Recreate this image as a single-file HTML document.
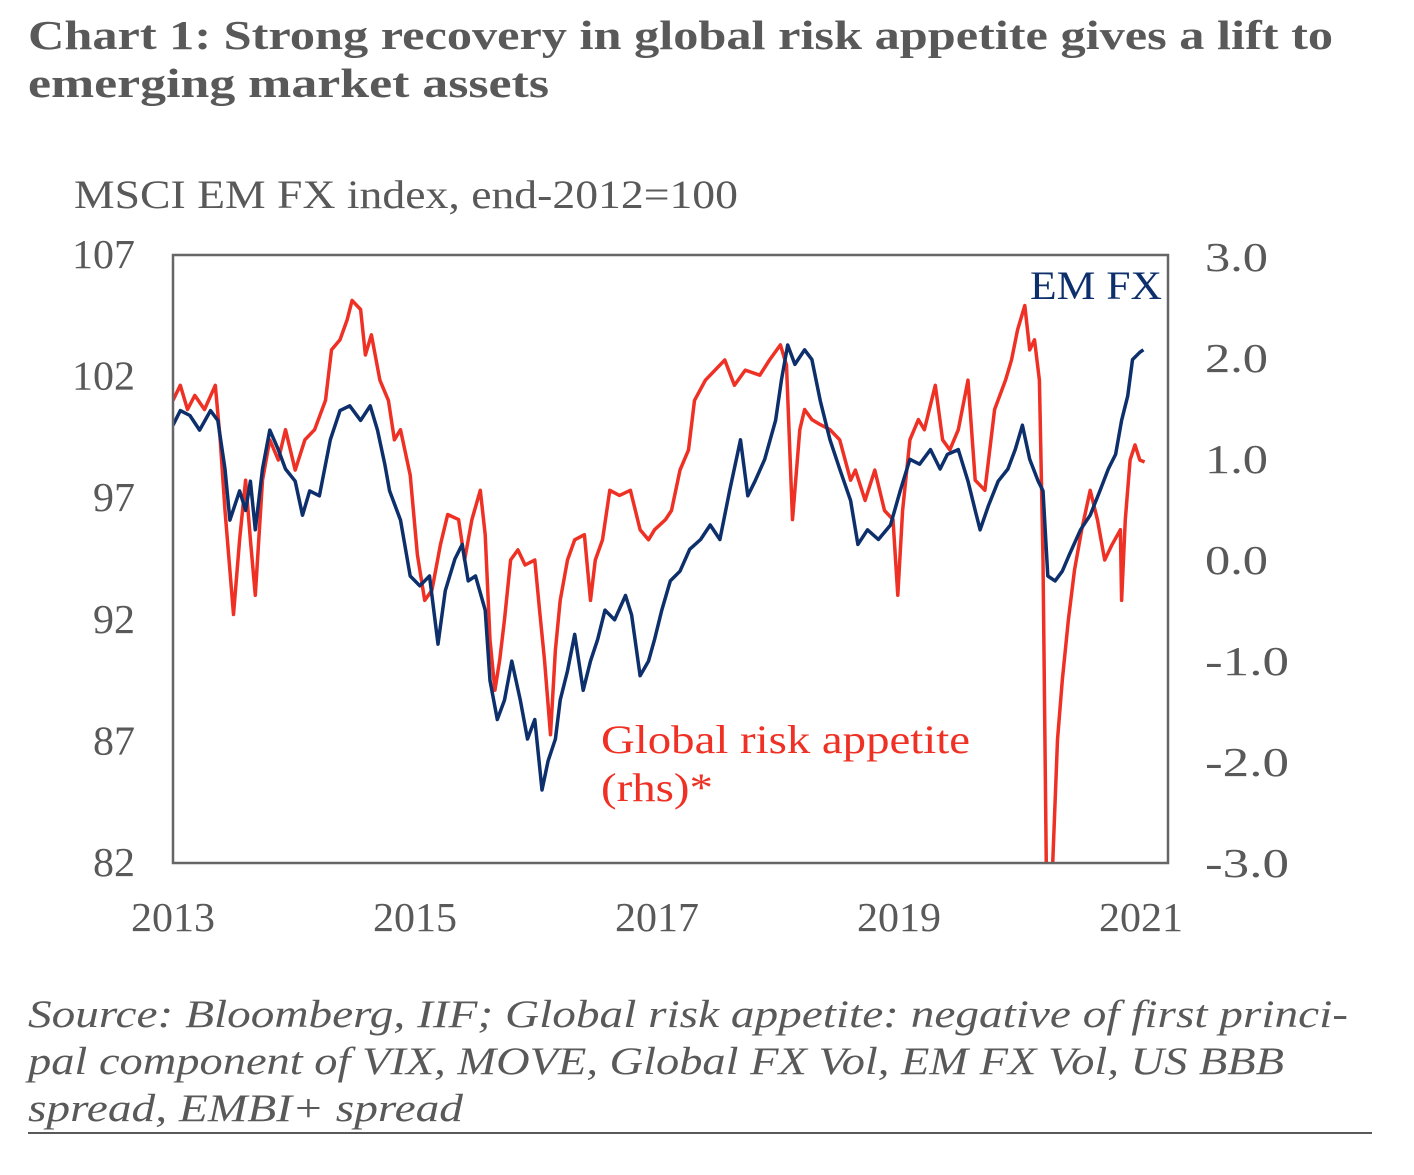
<!DOCTYPE html>
<html><head><meta charset="utf-8"><style>
body{margin:0;background:#fff;width:1414px;height:1170px;overflow:hidden;font-family:"Liberation Serif",serif;color:#595959}
svg text{font-family:"Liberation Serif",serif}
</style></head><body>
<svg width="1414" height="1170">
<text x="28" y="49" font-size="41" font-weight="bold" fill="#595959" textLength="1305" lengthAdjust="spacingAndGlyphs">Chart 1: Strong recovery in global risk appetite gives a lift to</text>
<text x="28" y="97" font-size="41" font-weight="bold" fill="#595959" textLength="521" lengthAdjust="spacingAndGlyphs">emerging market assets</text>
<text x="74" y="208" font-size="40" fill="#595959" textLength="664" lengthAdjust="spacingAndGlyphs">MSCI EM FX index, end-2012=100</text>
<g id="axes"></g>
<defs><clipPath id="pc"><rect x="173" y="255" width="995" height="608"/></clipPath></defs>
<g clip-path="url(#pc)"><path id="red" fill="none" stroke="#EE3124" stroke-width="3.5" stroke-linejoin="round"/>
<path id="blue" fill="none" stroke="#0D2F6B" stroke-width="3.5" stroke-linejoin="round"/></g>
<rect x="173" y="255" width="995" height="608" fill="none" stroke="#666" stroke-width="2.5"/>
<text x="1030" y="299" font-size="40" fill="#0D2F6B" textLength="132" lengthAdjust="spacingAndGlyphs">EM FX</text>
<text x="601" y="753" font-size="40" fill="#EE3124" textLength="369" lengthAdjust="spacingAndGlyphs">Global risk appetite</text>
<text x="601" y="801" font-size="40" fill="#EE3124" textLength="112" lengthAdjust="spacingAndGlyphs">(rhs)*</text>
<text x="28" y="1027" font-size="39" font-style="italic" fill="#595959" textLength="1320" lengthAdjust="spacingAndGlyphs">Source: Bloomberg, IIF; Global risk appetite: negative of first princi-</text>
<text x="28" y="1074" font-size="39" font-style="italic" fill="#595959" textLength="1256" lengthAdjust="spacingAndGlyphs">pal component of VIX, MOVE, Global FX Vol, EM FX Vol, US BBB</text>
<text x="28" y="1121" font-size="39" font-style="italic" fill="#595959" textLength="435" lengthAdjust="spacingAndGlyphs">spread, EMBI+ spread</text>
<line x1="28" y1="1133" x2="1372" y2="1133" stroke="#595959" stroke-width="2"/>
</svg>
<script>
const leftTicks=[107,102,97,92,87,82];
const rightTicks=["3.0","2.0","1.0","0.0","-1.0","-2.0","-3.0"];
const xTicks=[2013,2015,2017,2019,2021];
const blueT=[0,.06,.14,.22,.31,.37,.43,.47,.55,.60,.64,.68,.74,.80,.87,.93,1.01,1.07,1.13,1.21,1.30,1.38,1.46,1.55,1.63,1.69,1.75,1.79,1.88,1.96,2.04,2.12,2.19,2.25,2.33,2.39,2.44,2.50,2.58,2.62,2.68,2.74,2.80,2.87,2.93,2.99,3.05,3.10,3.16,3.20,3.26,3.32,3.39,3.45,3.51,3.57,3.65,3.74,3.79,3.86,3.93,3.98,4.04,4.11,4.19,4.27,4.36,4.44,4.52,4.60,4.69,4.75,4.81,4.89,4.98,5.03,5.08,5.14,5.22,5.28,5.35,5.43,5.51,5.60,5.66,5.74,5.83,5.93,6.01,6.09,6.17,6.26,6.34,6.40,6.49,6.57,6.63,6.67,6.74,6.82,6.90,6.96,7.02,7.08,7.15,7.19,7.23,7.29,7.35,7.41,7.50,7.58,7.66,7.73,7.79,7.84,7.89,7.93,7.99,8.02];
const blueV=[100.0,100.6,100.4,99.8,100.6,100.2,98.2,96.1,97.3,96.5,97.7,95.7,98.2,99.8,99.0,98.2,97.7,96.3,97.3,97.1,99.4,100.6,100.8,100.2,100.8,99.8,98.4,97.3,96.1,93.8,93.4,93.8,91.0,93.2,94.5,95.1,93.6,93.8,92.4,89.5,87.9,88.7,90.3,88.7,87.1,87.9,85.0,86.2,87.1,88.7,89.9,91.4,89.1,90.3,91.2,92.4,92.0,93.0,92.2,89.7,90.3,91.2,92.4,93.6,94.0,94.9,95.3,95.9,95.3,97.3,99.4,97.1,97.7,98.6,100.2,101.9,103.3,102.5,103.1,102.7,101.0,99.4,98.2,96.9,95.1,95.7,95.3,95.9,97.3,98.6,98.4,99.0,98.2,98.8,99.0,97.7,96.5,95.7,96.7,97.7,98.2,99.0,100.0,98.6,97.7,97.3,93.8,93.6,94.0,94.7,95.7,96.3,97.3,98.2,98.8,100.2,101.2,102.7,103.0,103.1];
const redT=[0,.06,.12,.18,.26,.35,.39,.43,.50,.55,.60,.64,.68,.74,.80,.87,.93,1.01,1.09,1.17,1.26,1.31,1.38,1.44,1.48,1.55,1.59,1.64,1.71,1.78,1.83,1.88,1.96,2.02,2.08,2.14,2.21,2.27,2.36,2.41,2.47,2.54,2.58,2.62,2.66,2.70,2.74,2.79,2.85,2.91,2.99,3.03,3.07,3.12,3.16,3.20,3.26,3.32,3.40,3.45,3.49,3.55,3.61,3.69,3.78,3.86,3.93,3.98,4.07,4.12,4.19,4.26,4.31,4.40,4.48,4.56,4.64,4.73,4.85,4.93,5.02,5.07,5.12,5.18,5.22,5.28,5.35,5.43,5.51,5.60,5.64,5.72,5.80,5.88,5.95,5.99,6.03,6.09,6.16,6.21,6.30,6.36,6.42,6.49,6.57,6.63,6.71,6.79,6.88,6.93,6.98,7.04,7.08,7.12,7.16,7.19,7.22,7.26,7.31,7.35,7.40,7.45,7.51,7.58,7.64,7.70,7.76,7.83,7.84,7.87,7.91,7.95,7.99,8.03];
const redV=[1.59,1.74,1.50,1.64,1.50,1.74,1.20,0.50,-0.53,0.21,0.80,0.21,-0.34,0.80,1.20,1.00,1.30,0.90,1.20,1.30,1.59,2.09,2.19,2.39,2.58,2.49,2.04,2.24,1.79,1.59,1.20,1.30,0.85,0.06,-0.39,-0.29,0.16,0.46,0.41,0.01,0.41,0.70,0.26,-0.78,-1.28,-0.98,-0.58,0.01,0.11,-0.04,0.01,-0.49,-0.98,-1.72,-0.88,-0.39,0.01,0.21,0.26,-0.39,0.01,0.21,0.70,0.65,0.70,0.31,0.21,0.31,0.41,0.50,0.90,1.10,1.59,1.79,1.89,1.99,1.74,1.89,1.84,1.99,2.14,1.94,0.41,1.30,1.50,1.40,1.35,1.30,1.20,0.80,0.90,0.60,0.90,0.50,0.41,-0.34,0.50,1.20,1.40,1.30,1.74,1.20,1.10,1.30,1.79,0.80,0.70,1.50,1.79,1.99,2.29,2.53,2.09,2.19,1.79,0.01,-3.3,-3.3,-1.77,-1.18,-0.58,-0.09,0.31,0.70,0.41,0.01,0.16,0.31,-0.39,0.41,1.00,1.15,1.00,0.98];
const X=t=>173+121*t, YL=v=>255+(107-v)*24.32, YR=v=>561-101*v;
const ns="http://www.w3.org/2000/svg", ax=document.getElementById('axes');
function txt(x,y,s,anchor,name){const e=document.createElementNS(ns,'text');e.setAttribute('x',x);e.setAttribute('y',y);e.setAttribute('font-size','41');e.setAttribute('fill','#595959');e.setAttribute('text-anchor',anchor);e.setAttribute('textLength',String(s).length*21);e.setAttribute('lengthAdjust','spacingAndGlyphs');e.textContent=s;


ax.appendChild(e);}
leftTicks.forEach(v=>txt(135,YL(v)+13,v,'end','left-tick-label'));
rightTicks.forEach(v=>txt(1205,YR(+v)+13,v,'start','right-tick-label'));
xTicks.forEach(y=>txt(X(y-2013),931,y,'middle','x-tick-label'));
document.getElementById('blue').setAttribute('d',blueT.map((t,i)=>(i?'L':'M')+X(t).toFixed(1)+' '+YL(blueV[i]).toFixed(1)).join(''));
document.getElementById('red').setAttribute('d',redT.map((t,i)=>(i?'L':'M')+X(t).toFixed(1)+' '+YR(redV[i]).toFixed(1)).join(''));
</script>
</body></html>
